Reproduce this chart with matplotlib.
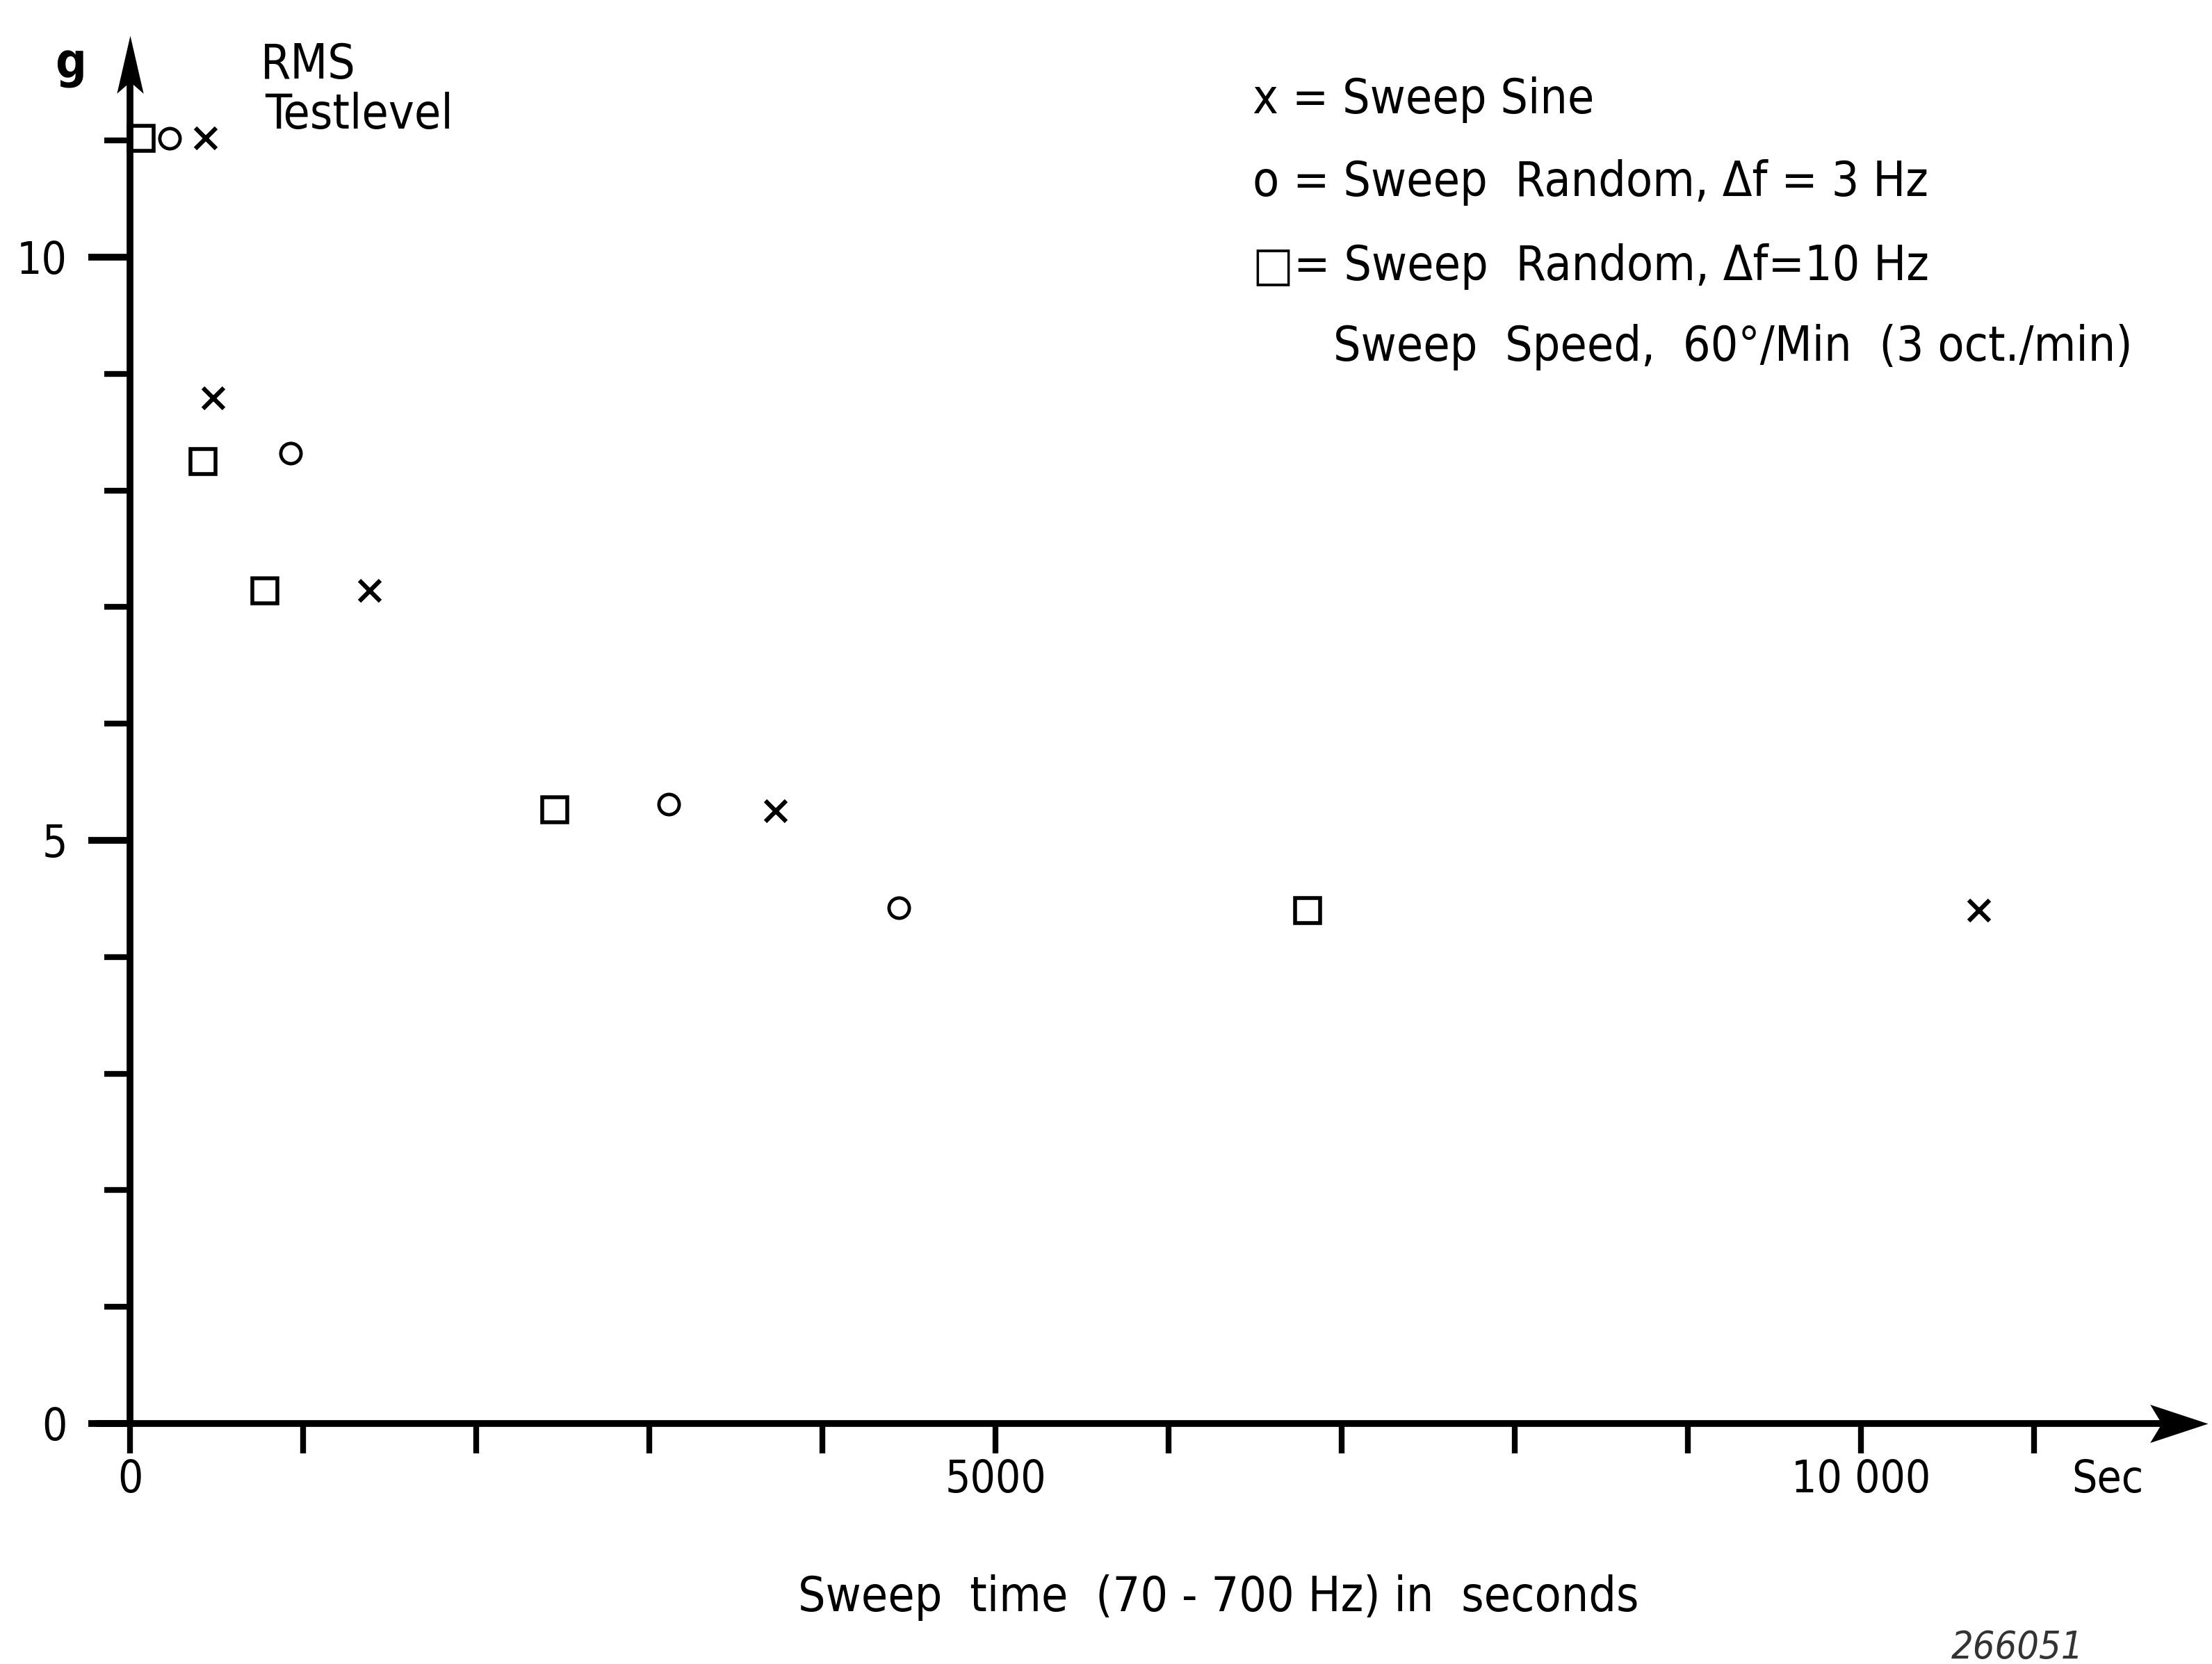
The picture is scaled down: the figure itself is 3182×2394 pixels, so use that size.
import matplotlib
matplotlib.use("Agg")
import matplotlib.pyplot as plt

# sweep time (s) and RMS test level (g)
sine_t = [438, 480, 1384, 3732, 10683]
sine_g = [11.02, 8.79, 7.14, 5.25, 4.40]

rand3_t = [227, 928, 3112, 4440]
rand3_g = [11.02, 8.32, 5.31, 4.42]

rand10_t = [65, 423, 781, 2452, 6804]
rand10_g = [11.02, 8.25, 7.14, 5.26, 4.40]

x_ticks = list(range(0, 12000, 1000))
x_labels = ["0", "", "", "", "", "5000", "", "", "", "", "10 000", ""]
y_major = [0, 5, 10]
y_minor = [1, 2, 3, 4, 6, 7, 8, 9, 11]

legend_lines = ["x = Sweep Sine",
                "o = Sweep  Random, \u0394f = 3 Hz",
                "\u25a1= Sweep  Random, \u0394f=10 Hz",
                "Sweep  Speed,  60\u00b0/Min  (3 oct./min)"]

plt.rcParams['font.family'] = ['DejaVu Sans']
plt.rcParams['font.stretch'] = 'condensed'

fig = plt.figure(figsize=(31.82, 23.94), dpi=100)
ax = fig.add_axes([0, 0, 1, 1])
ax.set_xlim(-751, 12028)
ax.set_ylim(-2.062, 12.205)

# axes drawn as arrows through the origin
for s in ['top', 'right']:
    ax.spines[s].set_visible(False)
ax.spines['left'].set_position(('data', 0))
ax.spines['bottom'].set_position(('data', 0))
ax.spines['left'].set_bounds(0, 11.6)
ax.spines['bottom'].set_bounds(-177, 11750)
ax.spines['left'].set_linewidth(7)
ax.spines['bottom'].set_linewidth(7)

head_up = [(0, 0), (-0.23, -1), (0, -0.8), (0.23, -1)]
head_right = [(0, 0), (-1, 0.33), (-0.8, 0), (-1, -0.33)]
ax.plot([0], [11.90], marker=head_up, markersize=120, color='k', mew=0)
ax.plot([12004], [0], marker=head_right, markersize=120, color='k', mew=0)

ax.set_xticks(x_ticks)
ax.set_xticklabels(x_labels)
ax.set_yticks(y_major)
ax.set_yticks(y_minor, minor=True)
ax.tick_params(axis='x', direction='out', length=31, width=6, pad=5, labelsize=46)
ax.tick_params(axis='y', which='major', direction='out', length=43, width=7, pad=22, labelsize=46)
ax.tick_params(axis='y', which='minor', direction='out', length=27, width=6)

# data points
ax.plot(sine_t, sine_g, linestyle='none', marker='x', markersize=21, mew=4.5, color='k')
ax.plot(rand3_t, rand3_g, linestyle='none', marker='o', markersize=21, mew=3.5,
        markerfacecolor='none', markeredgecolor='k')
ax.plot(rand10_t, rand10_g, linestyle='none', marker='s', markersize=26, mew=4,
        markerfacecolor='none', markeredgecolor='k')

fs = 50
ax.text(-345, 11.65, "g", fontsize=fs, fontweight='bold', ha='center', va='center')
ax.text(755, 11.65, "RMS", fontsize=fs, ha='left', va='center')
ax.text(779, 11.22, "Testlevel", fontsize=fs, ha='left', va='center')

legend_y = [11.35, 10.64, 9.92, 9.23]
legend_x = [6486, 6486, 6486, 6952]
for txt, lx, ly in zip(legend_lines, legend_x, legend_y):
    ax.text(lx, ly, txt, fontsize=fs, ha='left', va='center')

ax.text(11426, -0.30, "Sec", fontsize=46, ha='center', va='top')
ax.text(6289, -1.49, "Sweep  time  (70 - 700 Hz) in  seconds", fontsize=fs,
        ha='center', va='center')
ax.text(10904, -1.92, "266051", fontsize=40, style='italic', color='#333333',
        ha='center', va='center')

fig.savefig("out.png", dpi=100)
